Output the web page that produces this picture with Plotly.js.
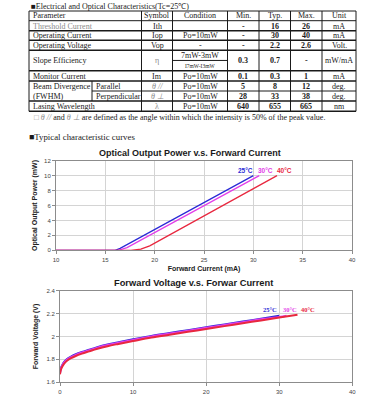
<!DOCTYPE html>
<html>
<head>
<meta charset="utf-8">
<script src="https://cdn.plot.ly/plotly-3.0.1.min.js"></script>
<style>
  html, body { margin: 0; padding: 0; background: #ffffff; }
  #chart { width: 382px; height: 400px; }
</style>
</head>
<body>
<div id="chart"></div>
<script>
// ---------- Table data ----------
const tableHeader = ["Parameter", "Symbol", "Condition", "Min.", "Typ.", "Max.", "Unit"];
const tableParameter = ["Threshold Current", "Operating Current", "Operating Voltage", "Slope Efficiency", "Monitor Current", "Parallel", "Perpendicular", "Lasing Wavelength"];
const tableSymbol = ["Ith", "Iop", "Vop", "η", "Im", "θ //", "θ ⊥", "λ"];
const tableCondition = ["", "Po=10mW", "-", "7mW-3mW", "Po=10mW", "Po=10mW", "Po=10mW", "Po=10mW"];
const slopeCondition2 = "I7mW-I3mW";
const tableMin = ["-", "-", "-", "0.3", "0.1", "5", "28", "640"];
const tableTyp = ["16", "30", "2.2", "0.7", "0.3", "8", "33", "655"];
const tableMax = ["26", "40", "2.6", "-", "1", "12", "38", "665"];
const tableUnit = ["mA", "mA", "Volt.", "mW/mA", "mA", "deg.", "deg.", "nm"];

// ---------- Chart 1: Optical output power vs forward current ----------
const opCurrent25 = [10, 16, 16.5, 30];
const opPower25 = [0, 0, 0.25, 10];
const opCurrent30 = [10, 16.3, 17.2, 30.6];
const opPower30 = [0, 0, 0.35, 10];
const opCurrent40 = [10, 17.6, 18.6, 19.5, 32.4];
const opPower40 = [0, 0, 0.15, 0.6, 10];

// ---------- Chart 2: Forward voltage vs forward current ----------
const fvCurrent25 = [0, 0.1, 0.3, 0.6, 1, 1.5, 2, 3, 4, 5, 6.5, 8, 10, 12.5, 15, 17.5, 20, 22.5, 25, 27.5, 30];
const fvVoltage25 = [1.68, 1.72, 1.75, 1.78, 1.805, 1.825, 1.84, 1.865, 1.885, 1.905, 1.93, 1.95, 1.975, 2.005, 2.03, 2.055, 2.08, 2.105, 2.13, 2.155, 2.18];
const fvCurrent30 = [0, 0.1, 0.3, 0.6, 1, 1.5, 2, 3, 4, 5, 6.5, 8, 10, 12.5, 15, 17.5, 20, 22.5, 25, 27.5, 30, 31];
const fvVoltage30 = [1.675, 1.715, 1.745, 1.775, 1.8, 1.82, 1.835, 1.86, 1.88, 1.9, 1.925, 1.945, 1.97, 2.0, 2.025, 2.05, 2.075, 2.1, 2.125, 2.15, 2.17, 2.18];
const fvCurrent40 = [0, 0.1, 0.3, 0.6, 1, 1.5, 2, 3, 4, 5, 6.5, 8, 10, 12.5, 15, 17.5, 20, 22.5, 25, 27.5, 30, 32.5];
const fvVoltage40 = [1.67, 1.705, 1.735, 1.765, 1.79, 1.81, 1.825, 1.85, 1.87, 1.89, 1.915, 1.935, 1.96, 1.99, 2.015, 2.04, 2.065, 2.09, 2.115, 2.14, 2.165, 2.19];

const seriesNames = ["25°C", "30°C", "40°C"];
const seriesColors = ["#2b2bd6", "#e23ee8", "#e8283f"];

// ---------- helpers (pixel -> paper) ----------
const W = 382, H = 400;
const px = x => x / W;
const py = y => 1 - y / H;

const SERIF = "Liberation Serif, Times New Roman, serif";
const SANS = "Liberation Sans, Arial, sans-serif";

const shapes = [];
const annotations = [];

function hline(y, x0, x1, w) {
  shapes.push({type: "line", xref: "paper", yref: "paper", x0: px(x0), x1: px(x1), y0: py(y), y1: py(y),
    line: {color: "#1a1a1a", width: w || 1}});
}
function vline(x, y0, y1, w) {
  shapes.push({type: "line", xref: "paper", yref: "paper", x0: px(x), x1: px(x), y0: py(y0), y1: py(y1),
    line: {color: "#1a1a1a", width: w || 1}});
}
function txt(text, x, y, opts) {
  if (!text) return;
  opts = opts || {};
  annotations.push({text: text, xref: "paper", yref: "paper", x: px(x), y: py(y),
    xanchor: opts.anchor || "center", yanchor: "middle", showarrow: false,
    font: {family: opts.family || SERIF, size: opts.size || 8, color: opts.color || "#1a1a1a", weight: opts.weight || "normal",
           style: opts.style || "normal"}});
}

// ---------- table layout ----------
const colX = [29, 141.5, 172.5, 227.5, 259, 290.5, 322, 356];
const rowY = [11, 20.7, 30.7, 40.3, 50.2, 70.7, 81, 91, 101, 111.3];
const subColX = 92;
const tableTop = rowY[0], tableBottom = rowY[rowY.length - 1];

txt("■Electrical and Optical Characteristics(Tc=25℃)", 29, 6, {anchor: "left", size: 8});

// vertical lines
colX.forEach(x => vline(x, tableTop, tableBottom, 1));
vline(subColX, rowY[6], rowY[8], 1);
// horizontal lines
hline(rowY[0], colX[0], colX[7], 1);
hline(rowY[1], colX[0], colX[7], 1);
hline(rowY[2], colX[0], colX[7], 1.6);
hline(rowY[3], colX[0], colX[7], 1.6);
hline(rowY[4], colX[0], colX[7], 1.6);
hline((rowY[4] + rowY[5]) / 2, colX[2], colX[3], 1);
hline(rowY[5], colX[0], colX[7], 1.6);
hline(rowY[6], colX[0], colX[7], 1.6);
hline(rowY[7], subColX, colX[7], 1);
hline(rowY[8], colX[0], colX[7], 1.6);
hline(rowY[9], colX[0], colX[7], 1.6);

// header
const hy = (rowY[0] + rowY[1]) / 2;
txt(tableHeader[0], 31, hy, {anchor: "left"});
for (let c = 1; c < 7; c++) txt(tableHeader[c], (colX[c] + colX[c + 1]) / 2, hy);

// body rows: row index -> [top, bottom]
const rowBounds = [[rowY[1], rowY[2]], [rowY[2], rowY[3]], [rowY[3], rowY[4]], [rowY[4], rowY[5]],
                   [rowY[5], rowY[6]], [rowY[6], rowY[7]], [rowY[7], rowY[8]], [rowY[8], rowY[9]]];
const grayText = "#8a8a8a";
for (let r = 0; r < tableParameter.length; r++) {
  const yc = (rowBounds[r][0] + rowBounds[r][1]) / 2 + 0.4;
  const isBeam = (r === 5 || r === 6);
  txt(tableParameter[r], isBeam ? subColX + 2 : 31, yc,
      {anchor: "left", color: r === 0 ? grayText : "#1a1a1a"});
  const symGray = (r === 3 || r === 5 || r === 6 || r === 7);
  txt(tableSymbol[r], (colX[1] + colX[2]) / 2, yc,
      {color: symGray ? grayText : "#1a1a1a", style: (r === 5 || r === 6) ? "italic" : "normal"});
  if (r === 3) {
    const mid = (rowBounds[r][0] + rowBounds[r][1]) / 2;
    txt(tableCondition[r], (colX[2] + colX[3]) / 2, (rowBounds[r][0] + mid) / 2 + 0.4);
    txt(slopeCondition2, (colX[2] + colX[3]) / 2, (mid + rowBounds[r][1]) / 2, {size: 5.5});
  } else {
    txt(tableCondition[r], (colX[2] + colX[3]) / 2, yc);
  }
  txt(tableMin[r], (colX[3] + colX[4]) / 2, yc, {weight: "bold"});
  txt(tableTyp[r], (colX[4] + colX[5]) / 2, yc, {weight: "bold"});
  txt(tableMax[r], (colX[5] + colX[6]) / 2, yc, {weight: "bold"});
  txt(tableUnit[r], (colX[6] + colX[7]) / 2, yc);
}
txt("Beam Divergence", 31, (rowBounds[5][0] + rowBounds[5][1]) / 2 + 0.4, {anchor: "left"});
txt("(FWHM)", 31, (rowBounds[6][0] + rowBounds[6][1]) / 2 + 0.4, {anchor: "left"});

txt("<span style='color:#9a9a9a'>□ </span><span style='color:#8a8a8a'><i>θ // </i></span>and<span style='color:#8a8a8a'><i> θ ⊥ </i></span>are defined as the angle within which the intensity is 50% of the peak value.",
    32, 117.5, {anchor: "left", size: 8});

txt("■Typical characteristic curves", 27, 137, {anchor: "left", size: 8.8});

// ---------- chart titles ----------
txt("Optical Output Power v.s. Forward Current", 190, 153, {family: SANS, size: 9, weight: "bold"});
txt("Forward Voltage v.s. Forwar Current", 193.5, 282.5, {family: SANS, size: 9.3, weight: "bold"});

// ---------- traces ----------
const traces = [];
const opX = [opCurrent25, opCurrent30, opCurrent40];
const opY = [opPower25, opPower30, opPower40];
for (let i = 0; i < 3; i++) {
  traces.push({x: opX[i], y: opY[i], type: "scatter", mode: "lines", name: seriesNames[i],
    line: {color: seriesColors[i], width: 1.3}, xaxis: "x", yaxis: "y", showlegend: false});
}
const fvX = [fvCurrent25, fvCurrent30, fvCurrent40];
const fvY = [fvVoltage25, fvVoltage30, fvVoltage40];
for (let i = 0; i < 3; i++) {
  traces.push({x: fvX[i], y: fvY[i], type: "scatter", mode: "lines", name: seriesNames[i],
    line: {color: seriesColors[i], width: 2, shape: "spline"}, xaxis: "x2", yaxis: "y2", showlegend: false});
}

// series labels
const lab1X = [29.2, 31.2, 33.2];
const lab2X = [28.7, 31.5, 33.9];
for (let i = 0; i < 3; i++) {
  annotations.push({text: seriesNames[i], x: lab1X[i], y: 10.65, xref: "x", yref: "y", showarrow: false,
    font: {family: SANS, size: 6.5, color: seriesColors[i], weight: "bold"}, xanchor: "center", yanchor: "middle"});
  annotations.push({text: seriesNames[i], x: lab2X[i], y: 2.232, xref: "x2", yref: "y2", showarrow: false,
    font: {family: "Liberation Serif, serif", size: 6.5, color: seriesColors[i], weight: "bold"}, xanchor: "center", yanchor: "middle"});
}

const axBase = {
  showline: true, mirror: true, linecolor: "#8c8c8c", linewidth: 1,
  gridcolor: "#d4d4d4", gridwidth: 1, zeroline: false,
  ticks: "outside", ticklen: 3, tickcolor: "#8c8c8c",
  tickfont: {family: SANS, size: 6, color: "#444"},
  fixedrange: true
};

const layout = {
  width: W, height: H,
  margin: {l: 0, r: 0, t: 0, b: 0},
  paper_bgcolor: "#ffffff", plot_bgcolor: "#ffffff",
  showlegend: false,
  xaxis: Object.assign({}, axBase, {
    domain: [px(56), px(352)], anchor: "y", range: [10, 40], dtick: 5, tick0: 10,
    title: {text: "Forward Current (mA)", font: {family: SANS, size: 7, color: "#222", weight: "bold"}, standoff: 4}
  }),
  yaxis: Object.assign({}, axBase, {
    domain: [py(250.3), py(160.7)], anchor: "x", range: [0, 12], dtick: 2,
    title: {text: "Optical Output Power (mW)", font: {family: SANS, size: 7, color: "#222", weight: "bold"}, standoff: 5}
  }),
  xaxis2: Object.assign({}, axBase, {
    domain: [px(60), px(352.3)], anchor: "y2", range: [0, 40], dtick: 10
  }),
  yaxis2: Object.assign({}, axBase, {
    domain: [py(382.3), py(290.6)], anchor: "x2", range: [1.6, 2.4], dtick: 0.2,
    title: {text: "Forward Voltage (V)", font: {family: SANS, size: 7, color: "#222", weight: "bold"}, standoff: 6}
  }),
  shapes: shapes,
  annotations: annotations
};

Plotly.newPlot("chart", traces, layout, {displayModeBar: false, staticPlot: true});
</script>
</body>
</html>
